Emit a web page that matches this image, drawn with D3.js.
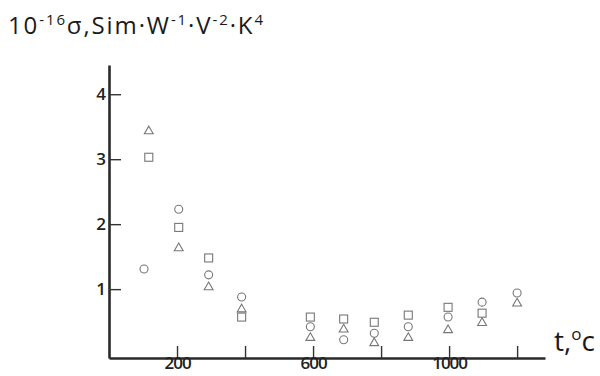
<!DOCTYPE html>
<html>
<head>
<meta charset="utf-8">
<script src="https://cdn.jsdelivr.net/npm/d3@7"></script>
<style>
  body { margin: 0; background: #fff; }
  svg { display: block; font-family: "Open Sans", "Noto Sans", sans-serif; }
</style>
</head>
<body>
<script>
// temperatures (deg C) and conductivity values
const circleT = [103, 205, 293, 390, 592, 690, 780, 880, 997, 1097, 1200];
const circleV = [1.31, 2.23, 1.22, 0.88, 0.42, 0.22, 0.32, 0.42, 0.57, 0.80, 0.94];
const squareT = [117, 205, 293, 390, 592, 690, 780, 880, 997, 1097];
const squareV = [3.03, 1.95, 1.48, 0.57, 0.57, 0.54, 0.49, 0.60, 0.72, 0.63];
const triangleT = [117, 205, 293, 390, 592, 690, 780, 880, 997, 1097, 1200];
const triangleV = [3.43, 1.63, 1.03, 0.69, 0.25, 0.38, 0.17, 0.25, 0.37, 0.48, 0.78];

const xTicks = [200, 400, 600, 800, 1000, 1200];
const xLabels = [200, 600, 1000];
const yTicks = [1, 2, 3, 4];

const width = 600, height = 376;
const svg = d3.select('body').append('svg')
  .attr('width', width)
  .attr('height', height);

const x = d3.scaleLinear().domain([0, 1282]).range([109, 545]);
const y = d3.scaleLinear().domain([-0.06, 4.45]).range([358, 65]);

// y axis, ticks pointing inward
const yAxis = svg.append('g')
  .attr('transform', `translate(${x(0)},0)`)
  .call(d3.axisLeft(y).tickValues(yTicks).tickFormat(d3.format('d'))
    .tickSizeInner(-12).tickSizeOuter(0).tickPadding(3));

// x axis
const xAxis = svg.append('g')
  .attr('transform', `translate(0,${y(-0.06)})`)
  .call(d3.axisBottom(x).tickValues(xTicks).tickSizeInner(-12).tickSizeOuter(0).tickPadding(2)
    .tickFormat((d) => (xLabels.includes(d) ? d : '')));

[xAxis, yAxis].forEach((g) => {
  g.select('.domain').attr('stroke', '#2a2a2a').attr('stroke-width', 2.6);
  g.selectAll('.tick line').attr('stroke', '#333').attr('stroke-width', 1.4);
  g.selectAll('.tick text')
    .attr('fill', '#222')
    .style('font-size', '17px')
    .style('font-weight', '600')
    .style('font-family', '"Open Sans", sans-serif');
});
xAxis.selectAll('.tick text').attr('dy', '0.5em').style('letter-spacing', '-1px');

const markStroke = '#777';

// circles
svg.append('g')
  .selectAll('circle')
  .data(d3.zip(circleT, circleV))
  .join('circle')
  .attr('cx', (d) => x(d[0]))
  .attr('cy', (d) => y(d[1]))
  .attr('r', 4)
  .attr('fill', 'none')
  .attr('stroke', markStroke)
  .attr('stroke-width', 1.1);

// squares
svg.append('g')
  .selectAll('rect')
  .data(d3.zip(squareT, squareV))
  .join('rect')
  .attr('x', (d) => x(d[0]) - 4)
  .attr('y', (d) => y(d[1]) - 4)
  .attr('width', 8)
  .attr('height', 8)
  .attr('fill', 'none')
  .attr('stroke', markStroke)
  .attr('stroke-width', 1.1);

// triangles
const tri = d3.symbol().type(d3.symbolTriangle).size(34);
svg.append('g')
  .selectAll('path')
  .data(d3.zip(triangleT, triangleV))
  .join('path')
  .attr('transform', (d) => `translate(${x(d[0])},${y(d[1])})`)
  .attr('d', tri)
  .attr('fill', 'none')
  .attr('stroke', markStroke)
  .attr('stroke-width', 1.1);

// axis titles
const yTitle = svg.append('text')
  .attr('x', 8)
  .attr('y', 34)
  .attr('fill', '#1a1a1a')
  .attr('textLength', 255)
  .attr('lengthAdjust', 'spacing')
  .style('font-size', '24px');
yTitle.append('tspan').text('10');
yTitle.append('tspan').attr('dy', -9).style('font-size', '15px').text('-16');
yTitle.append('tspan').attr('dy', 9).text('σ,Sim·W');
yTitle.append('tspan').attr('dy', -9).style('font-size', '15px').text('-1');
yTitle.append('tspan').attr('dy', 9).text('·V');
yTitle.append('tspan').attr('dy', -9).style('font-size', '15px').text('-2');
yTitle.append('tspan').attr('dy', 9).text('·K');
yTitle.append('tspan').attr('dy', -9).style('font-size', '15px').text('4');

const xTitle = svg.append('text')
  .attr('x', 554)
  .attr('y', 351)
  .attr('fill', '#1a1a1a')
  .style('font-size', '28px');
xTitle.append('tspan').text('t,');
xTitle.append('tspan').attr('dy', -11).style('font-size', '17px').text('o');
xTitle.append('tspan').attr('dy', 11).text('c');
</script>
</body>
</html>
